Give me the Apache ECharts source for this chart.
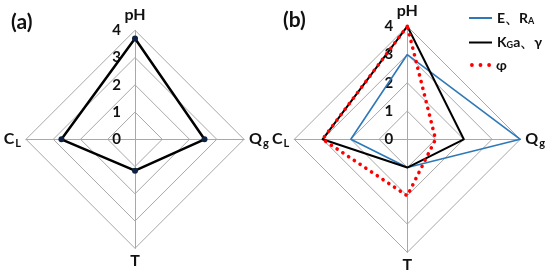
<!DOCTYPE html>
<html><head><meta charset="utf-8">
<script src="https://cdn.jsdelivr.net/npm/echarts@6/dist/echarts.min.js"></script>
<style>html,body{margin:0;padding:0;background:#fff}#c{width:550px;height:279px}</style>
</head><body><div id="c"></div>
<script>
// ---- data ----
const indicatorNames = ['pH', 'C_L', 'T', 'Q_g'];   // counter-clockwise from top
const axisMin = 0;
const axisMax = 4;
const panelLabels = ['(a)', '(b)'];
const seriesA = [3.7, 2.7, 1.15, 2.55];
const seriesERA = [3, 2, 1, 4];
const seriesKGa = [4, 3, 1, 2];
const seriesPhi = [4, 3, 2, 1];
const legendNames = ['E、R_A', 'K_Ga、γ', 'φ'];

// ---- helpers ----
const FONT = 'Lato';
function sub(str) {
  return '{m|' + str.replace(/_(\w)/g, '}{s|$1}{m|') + '}';
}
function radarCfg(cx, r) {
  return {
    center: [cx, 139.3],
    radius: r,
    startAngle: 90,
    shape: 'polygon',
    splitNumber: 4,
    nameGap: 5,
    indicator: indicatorNames.map((n, i) => {
      const o = { name: n, min: axisMin, max: axisMax };
      if (i === 0) o.axisLabel = { show: true };
      return o;
    }),
    axisName: {
      formatter: (name) => sub(name),
      rich: {
        m: { fontFamily: FONT, fontWeight: 'bold', fontSize: 16, color: '#111' },
        s: { fontFamily: FONT, fontWeight: 'bold', fontSize: 11, color: '#111', padding: [8, 0, 0, 1] }
      }
    },
    splitLine: { lineStyle: { color: '#a8a8a8', width: 1 } },
    splitArea: { show: false },
    axisLine: { lineStyle: { color: '#a8a8a8', width: 1 } },
    axisTick: { show: false },
    axisLabel: { show: false, fontFamily: FONT, fontWeight: 'bold', fontSize: 15, color: '#111', margin: 14 }
  };
}

const chart = echarts.init(document.getElementById('c'), null, { renderer: 'canvas' });
const richLegend = {
  m: { fontFamily: FONT, fontWeight: 'bold', fontSize: 14, color: '#111' },
  s: { fontFamily: FONT, fontWeight: 'bold', fontSize: 9, color: '#111', padding: [6, 0, 0, 0] }
};
const dotsIcon = 'path://M0,2a2,2 0 1,0 4,0a2,2 0 1,0 -4,0zM9,2a2,2 0 1,0 4,0a2,2 0 1,0 -4,0zM18,2a2,2 0 1,0 4,0a2,2 0 1,0 -4,0z';

chart.setOption({
  animation: false,
  backgroundColor: '#fff',
  title: [
    { text: panelLabels[0], left: 6, top: 7, textStyle: { fontFamily: FONT, fontSize: 21, fontWeight: 'bold', color: '#111' } },
    { text: panelLabels[1], left: 278, top: 5, textStyle: { fontFamily: FONT, fontSize: 21, fontWeight: 'bold', color: '#111' } }
  ],
  legend: [
    {
      data: [legendNames[0], legendNames[1]],
      orient: 'vertical', left: 464, top: 6, itemWidth: 23, itemHeight: 2, itemGap: 10,
      icon: 'rect',
      formatter: (n) => sub(n),
      textStyle: { rich: richLegend }
    },
    {
      data: [{ name: legendNames[2], icon: dotsIcon }],
      orient: 'vertical', left: 465, top: 53, itemWidth: 21, itemHeight: 4,
      formatter: (n) => sub(n),
      textStyle: { rich: richLegend }
    }
  ],
  radar: [radarCfg(135, 109), radarCfg(407.3, 113)],
  series: [
    {
      type: 'radar', radarIndex: 0, symbol: 'circle', symbolSize: 6,
      lineStyle: { color: '#000', width: 2.5 },
      itemStyle: { color: '#0d2240' },
      data: [{ value: seriesA, name: 'a' }]
    },
    {
      type: 'radar', radarIndex: 1, symbol: 'none', name: legendNames[0],
      lineStyle: { color: '#2e78b8', width: 1.6 },
      itemStyle: { color: '#2e78b8' },
      data: [{ value: seriesERA, name: legendNames[0] }]
    },
    {
      type: 'radar', radarIndex: 1, symbol: 'none', name: legendNames[1],
      lineStyle: { color: '#000', width: 2 },
      itemStyle: { color: '#000' },
      data: [{ value: seriesKGa, name: legendNames[1] }]
    },
    {
      type: 'radar', radarIndex: 1, symbol: 'none', name: legendNames[2],
      lineStyle: { color: '#ff0000', width: 3.6, type: [0.1, 6.8], cap: 'round' },
      itemStyle: { color: '#ff0000' },
      data: [{ value: seriesPhi, name: legendNames[2] }]
    }
  ]
});
</script></body></html>
